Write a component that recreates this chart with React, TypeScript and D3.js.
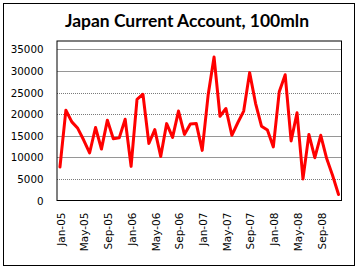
import React from "react";
import * as d3 from "d3";

const months = ["Jan", "Feb", "Mar", "Apr", "May", "Jun", "Jul", "Aug", "Sep", "Oct", "Nov", "Dec"];
const years = ["05", "06", "07", "08"];
const categories: string[] = years.flatMap((y) => months.map((m) => `${m}-${y}`));

const currentAccount = [
  7750, 20900, 18200, 16700, 14000, 11000, 16900, 11900, 18600, 14300, 14500, 18800,
  7900, 23400, 24600, 13200, 16400, 10200, 17800, 14600, 20700, 15300, 17700, 17800,
  11600, 24400, 33200, 19500, 21300, 15100, 18000, 20700, 29600, 22500, 17200, 16300,
  12400, 25200, 29100, 13800, 20300, 5000, 15300, 9900, 15100, 9700, 5800, 1400,
];

const yTicks = [0, 5000, 10000, 15000, 20000, 25000, 30000, 35000];
const dottedTicks = [5000, 20000, 25000];
const xTickLabels = categories.filter((_, i) => i % 4 === 0);

const W = 357;
const H = 268;
const plot = { left: 57, right: 341.5, top: 41, bottom: 200.5 };

export default function App() {
  const x = d3.scaleBand<string>().domain(categories).range([plot.left, plot.right]);
  const y = d3.scaleLinear().domain([0, 35000]).range([plot.bottom, 49.3]);
  const cx = (c: string) => (x(c) as number) + x.bandwidth() / 2;

  const line = d3
    .line<number>()
    .x((_, i) => cx(categories[i]))
    .y((d) => y(d));

  return (
    <svg width={W} height={H} style={{ position: "absolute", left: 0, top: 0, display: "block" }}>
      <rect x={0} y={0} width={W} height={H} fill="#fff" />
      <rect x={3.5} y={3.5} width={351} height={262} fill="#fff" stroke="#000" strokeWidth={1} />
      <text
        x={187}
        y={27}
        textAnchor="middle"
        fontFamily="Lato, 'Open Sans', sans-serif"
        fontWeight="bold"
        fontSize={16.5}
        textLength={244}
        lengthAdjust="spacingAndGlyphs"
        fill="#000"
      >
        Japan Current Account, 100mln
      </text>
      {yTicks.filter((t) => t > 0).map((t) => (
        <line
          key={t}
          x1={plot.left}
          x2={plot.right}
          y1={Math.round(y(t)) + 0.5}
          y2={Math.round(y(t)) + 0.5}
          stroke={dottedTicks.includes(t) ? "#7a7a7a" : "#969696"}
          strokeWidth={1}
          strokeDasharray={dottedTicks.includes(t) ? "1,1" : undefined}
        />
      ))}
      {yTicks.map((t) => (
        <text
          key={t}
          x={43.5}
          y={y(t)}
          textAnchor="end"
          dominantBaseline="central"
          fontFamily="'DejaVu Sans', Verdana, sans-serif"
          fontSize={10.3}
          fill="#000"
        >
          {t}
        </text>
      ))}
      {xTickLabels.map((c) => (
        <text
          key={c}
          transform={`translate(${cx(c) + 0.8},212.5) rotate(-90)`}
          textAnchor="end"
          dominantBaseline="central"
          fontFamily="'DejaVu Sans', Verdana, sans-serif"
          fontSize={10.5}
          fill="#000"
        >
          {c}
        </text>
      ))}
      <path
        d={line(currentAccount) || ""}
        fill="none"
        stroke="#ff0000"
        strokeWidth={3}
        strokeLinejoin="round"
        strokeLinecap="round"
      />
      <rect
        x={plot.left}
        y={plot.top}
        width={plot.right - plot.left}
        height={plot.bottom - plot.top}
        fill="none"
        stroke="#000"
        strokeWidth={1}
      />
    </svg>
  );
}
